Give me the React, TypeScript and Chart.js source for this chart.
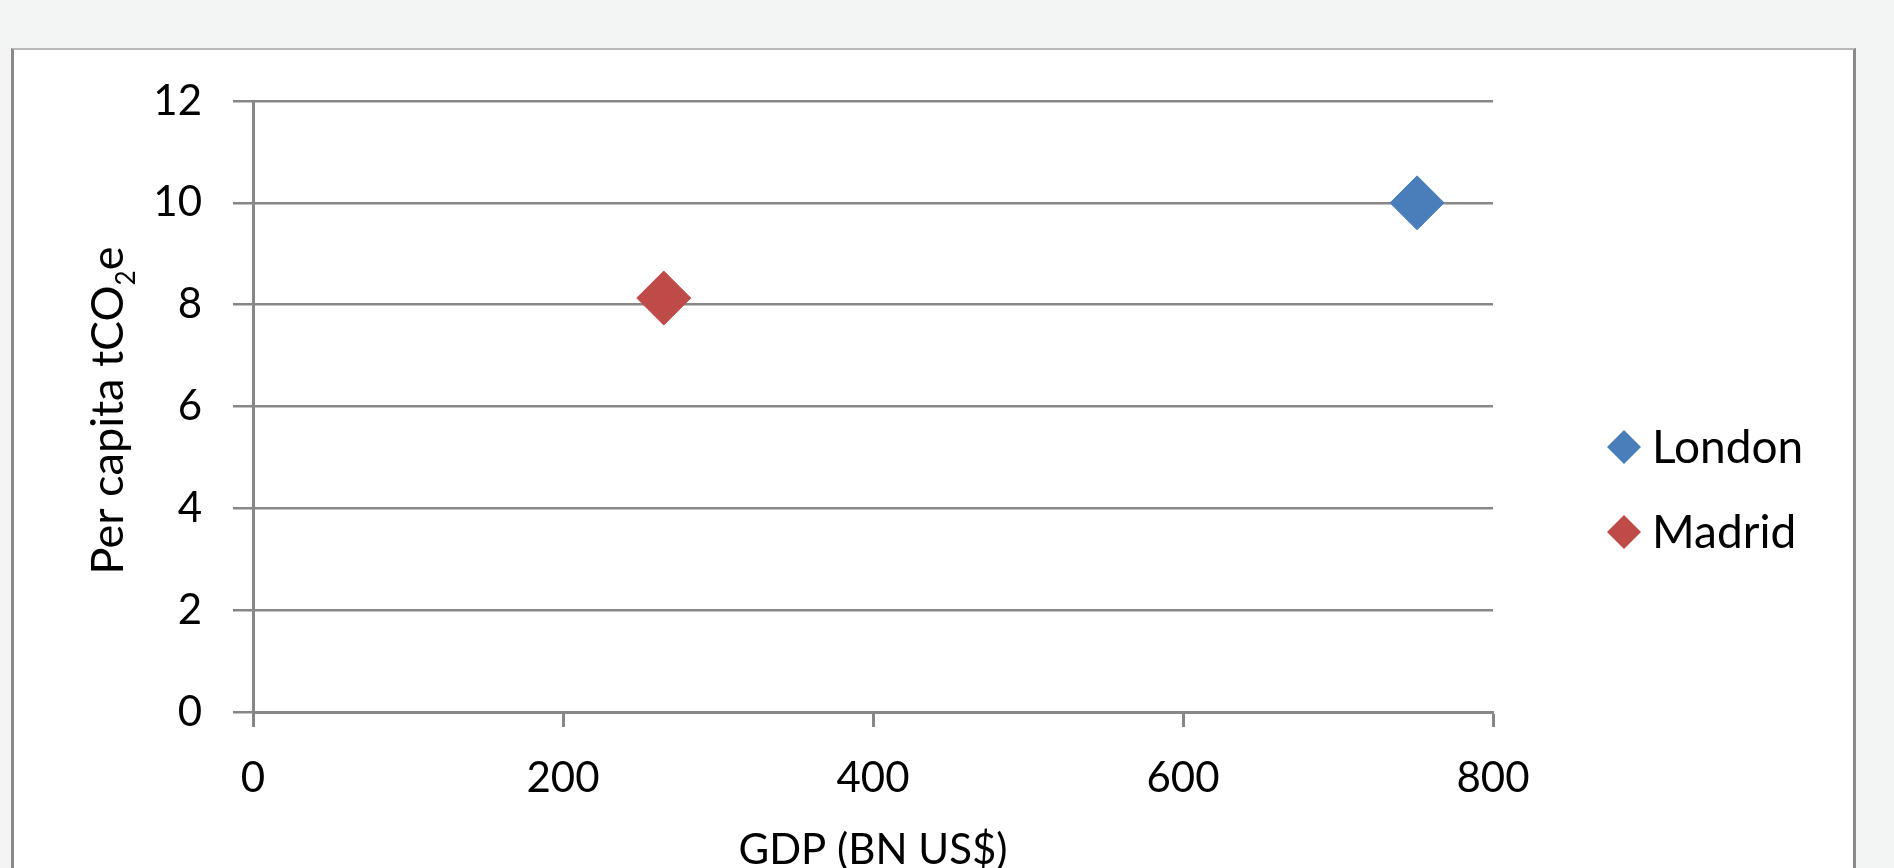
import { useEffect, useRef } from 'react';
import { Chart, registerables } from 'chart.js';

Chart.register(...registerables);

// Cities plotted: GDP (billion US$) against per-capita emissions (tCO2e)
const cityNames = ['London', 'Madrid'];
const gdpBnUsd = [751, 265];
const perCapitaTco2e = [10.0, 8.13];
const cityColors = ['#4A7EBB', '#BE4B48'];

const xTickValues = [0, 200, 400, 600, 800];
const yTickValues = [0, 2, 4, 6, 8, 10, 12];

const xTitle = 'GDP (BN US$)';
const yTitleParts = ['Per capita tCO', '2', 'e'];

const FONT = 'Lato, "Open Sans", "Noto Sans", sans-serif';
const TEXT_SIZE = 42;
const Y_TITLE_SIZE = 45;
const LEGEND_SIZE = 46;
const AXIS_GRAY = '#878787';

// Rotated y-axis title with a subscript digit
const yTitlePlugin = {
  id: 'yTitleSub',
  afterDraw(chart: any) {
    const { ctx, chartArea } = chart;
    const cy = (chartArea.top + chartArea.bottom) / 2 + 4;
    const mainFont = `${Y_TITLE_SIZE}px ${FONT}`;
    const subFont = `26px ${FONT}`;
    ctx.save();
    ctx.font = mainFont;
    const w1 = ctx.measureText(yTitleParts[0]).width;
    const w3 = ctx.measureText(yTitleParts[2]).width;
    ctx.font = subFont;
    const w2 = ctx.measureText(yTitleParts[1]).width;
    const total = w1 + w2 + w3;
    ctx.translate(123, cy);
    ctx.rotate(-Math.PI / 2);
    ctx.fillStyle = '#000';
    ctx.textBaseline = 'alphabetic';
    ctx.textAlign = 'left';
    let u = -total / 2;
    ctx.font = mainFont;
    ctx.fillText(yTitleParts[0], u, 0);
    u += w1;
    ctx.font = subFont;
    ctx.fillText(yTitleParts[1], u, 12);
    u += w2;
    ctx.font = mainFont;
    ctx.fillText(yTitleParts[2], u, 0);
    ctx.restore();
  },
};

// Legend on the right: diamond marker followed by the series name
const sideLegendPlugin = {
  id: 'sideLegend',
  afterDraw(chart: any) {
    const { ctx } = chart;
    const markerX = 1624;
    const textX = 1652;
    const firstY = 447;
    const rowGap = 85;
    const half = 17;
    ctx.save();
    chart.data.datasets.forEach((ds: any, i: number) => {
      const cy = firstY + i * rowGap;
      ctx.beginPath();
      ctx.moveTo(markerX - half, cy);
      ctx.lineTo(markerX, cy - half);
      ctx.lineTo(markerX + half, cy);
      ctx.lineTo(markerX, cy + half);
      ctx.closePath();
      ctx.fillStyle = ds.backgroundColor;
      ctx.fill();
      ctx.font = `${LEGEND_SIZE}px ${FONT}`;
      ctx.fillStyle = '#000';
      ctx.textBaseline = 'middle';
      ctx.textAlign = 'left';
      ctx.fillText(ds.label, textX, cy + 1);
    });
    ctx.restore();
  },
};

export default function App() {
  const canvasRef = useRef<HTMLCanvasElement>(null);

  useEffect(() => {
    const canvas = canvasRef.current;
    if (!canvas) return;
    const chart = new Chart(canvas, {
      type: 'scatter',
      data: {
        datasets: cityNames.map((name, i) => ({
          label: name,
          data: [{ x: gdpBnUsd[i], y: perCapitaTco2e[i] }],
          backgroundColor: cityColors[i],
          borderColor: cityColors[i],
          borderWidth: 1,
          pointStyle: 'rectRot',
          pointRadius: 27,
          pointHoverRadius: 27,
        })),
      },
      options: {
        responsive: false,
        animation: false,
        devicePixelRatio: 1,
        layout: { padding: { top: 101, left: 0, right: 401, bottom: 18 } },
        plugins: {
          legend: { display: false },
          tooltip: { enabled: false },
          title: { display: false },
        },
        scales: {
          x: {
            type: 'linear',
            min: 0,
            max: 800,
            afterBuildTicks: (scale: any) => {
              scale.ticks = xTickValues.map((v) => ({ value: v }));
            },
            afterFit: (scale: any) => {
              scale.height = 170;
            },
            grid: {
              drawOnChartArea: false,
              drawTicks: true,
              tickLength: 15,
              tickWidth: 3,
              tickColor: AXIS_GRAY,
              color: AXIS_GRAY,
            },
            border: { display: true, color: AXIS_GRAY, width: 3 },
            ticks: {
              padding: 26,
              color: '#000',
              font: { family: FONT, size: TEXT_SIZE },
              maxRotation: 0,
            },
            title: {
              display: true,
              text: xTitle,
              color: '#000',
              font: { family: FONT, size: TEXT_SIZE },
              padding: { top: 0, bottom: 6 },
            },
          },
          y: {
            type: 'linear',
            min: 0,
            max: 12,
            afterBuildTicks: (scale: any) => {
              scale.ticks = yTickValues.map((v) => ({ value: v }));
            },
            afterFit: (scale: any) => {
              scale.width = 253;
            },
            grid: {
              drawOnChartArea: true,
              drawTicks: true,
              tickLength: 20,
              lineWidth: 2.5,
              color: AXIS_GRAY,
              tickColor: AXIS_GRAY,
            },
            border: { display: true, color: AXIS_GRAY, width: 3 },
            ticks: {
              padding: 31,
              color: '#000',
              font: { family: FONT, size: TEXT_SIZE },
            },
          },
        },
      },
      plugins: [yTitlePlugin, sideLegendPlugin],
    });
    return () => chart.destroy();
  }, []);

  return (
    <div
      style={{
        position: 'fixed',
        inset: 0,
        background: '#f3f4f4',
        overflow: 'hidden',
      }}
    >
      <div
        style={{
          position: 'absolute',
          left: 11,
          top: 48,
          width: 1845,
          height: 900,
          boxSizing: 'border-box',
          background: '#ffffff',
          borderTop: '2px solid #b9b9b9',
          borderLeft: '3px solid #8a8a8a',
          borderRight: '3px solid #8a8a8a',
        }}
      />
      <canvas
        ref={canvasRef}
        width={1894}
        height={900}
        style={{ position: 'absolute', left: 0, top: 0, width: 1894, height: 900 }}
      />
    </div>
  );
}
